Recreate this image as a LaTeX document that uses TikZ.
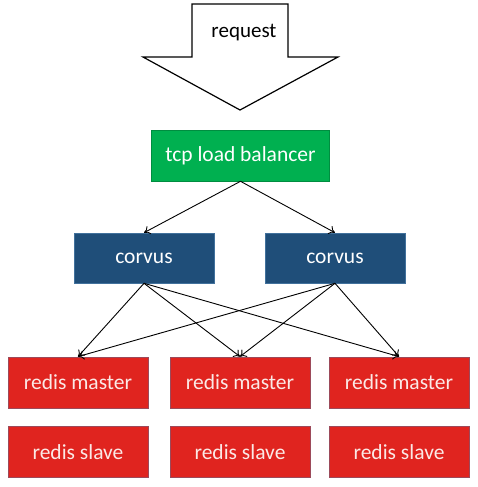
\documentclass[tikz,border=0pt]{standalone}
\usepackage{fontspec}
\setmainfont{Carlito}
\usetikzlibrary{arrows.meta}
\definecolor{gr}{HTML}{00B050}
\definecolor{bl}{HTML}{1F4E79}
\definecolor{blb}{HTML}{41719C}
\definecolor{rd}{HTML}{E0241F}
\definecolor{rdb}{HTML}{9C4A5A}
\definecolor{rtxt}{HTML}{FBE9E6}
\begin{document}
\begin{tikzpicture}[x=1pt,y=-1pt,
  box/.style={minimum width=140pt,minimum height=50pt,inner sep=0pt,text=white,font=\fontsize{21.5}{25}\selectfont},
  greenbox/.style={box,fill=gr,draw=gr!80!black,line width=0.6pt,minimum width=178pt,minimum height=51pt},
  bluebox/.style={box,fill=bl,draw=blb,line width=0.6pt},
  redbox/.style={box,fill=rd,draw=rdb,line width=0.8pt,minimum height=51pt,text=rtxt},
  conn/.style={line width=0.9pt,-{To[length=6pt,width=9pt]}}]
\useasboundingbox (0,0) rectangle (477,487);
\fill[white] (0,0) rectangle (477,487);
% big arrow
\draw[line width=1.2pt,fill=white] (192,4) -- (288,4) -- (288,57) -- (338,57) -- (240,110) -- (143,57) -- (192,57) -- cycle;
\node[font=\fontsize{21}{25}\selectfont] (req) at (244,33) {request};
\node[greenbox] (tcp) at (240.5,155.5) {tcp load balancer};
\node[bluebox] (c1) at (144,258) {corvus};
\node[bluebox] (c2) at (335,258) {corvus};
\node[redbox] (m1) at (78,382.5) {redis master};
\node[redbox] (m2) at (240,382.5) {redis master};
\node[redbox] (m3) at (399,382.5) {redis master};
\node[redbox] (s1) at (78,452) {redis slave};
\node[redbox] (s2) at (240,452) {redis slave};
\node[redbox] (s3) at (399,452) {redis slave};
\draw[conn] (tcp.south) -- (c1.north);
\draw[conn] (tcp.south) -- (c2.north);
\foreach \c in {c1,c2}{
  \foreach \m in {m1,m2,m3}{
    \draw[conn] (\c.south) -- (\m.north);
  }
}
\end{tikzpicture}
\end{document}
